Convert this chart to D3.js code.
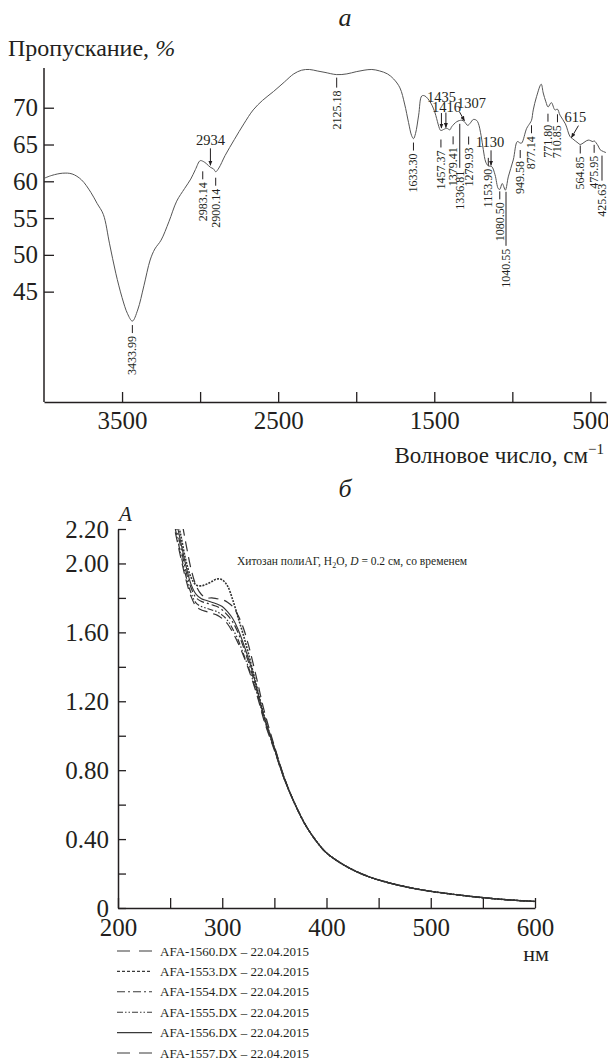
<!DOCTYPE html>
<html lang="ru">
<head>
<meta charset="utf-8">
<title>ИК и УФ спектры хитозана</title>
<script src="https://cdn.jsdelivr.net/npm/d3@7/dist/d3.min.js"></script>
<style>
  body {margin: 0; background: #fff;}
  svg text {font-family: "Liberation Serif", "Times New Roman", serif; fill: #231f20;}
</style>
</head>
<body>
<svg id="chart" width="608" height="1060"></svg>
<script>
// ---- panel a: IR spectrum ----
var irWave = [4000, 3950, 3880, 3820, 3760, 3700, 3660, 3620, 3580, 3540, 3500, 3465, 3434, 3400, 3360, 3320, 3290, 3250, 3200, 3150,
  3100, 3060, 3030, 3000, 2980, 2960, 2934, 2915, 2900, 2880, 2840, 2780, 2720, 2660, 2600, 2530, 2460, 2400, 2350, 2300,
  2250, 2200, 2125, 2060, 2000, 1950, 1900, 1850, 1800, 1760, 1720, 1690, 1665, 1645, 1633, 1620, 1600, 1580, 1560, 1527,
  1500, 1463, 1457, 1435, 1420, 1400, 1389, 1356, 1324, 1307, 1286, 1270, 1250, 1230, 1218, 1200, 1186, 1170, 1154, 1132,
  1111, 1090, 1080, 1065, 1045, 1040, 1026, 994, 968, 950, 940, 908, 887, 877, 866, 845, 815, 802, 785, 771,
  750, 727, 711, 695, 660, 631, 615, 579, 565, 514, 483, 476, 450, 438, 400];
var irTrans = [60.4, 60.8, 61.1, 61.0, 60.2, 58.5, 57.0, 55.5, 51.5, 47.5, 44.2, 42.0, 41.0, 42.5, 45.8, 49.3, 50.8, 52.0, 54.5, 57.3,
  59.0, 60.3, 61.6, 62.8, 62.7, 62.4, 61.9, 61.7, 61.3, 61.8, 63.5, 65.7, 67.8, 69.7, 71.0, 72.2, 73.5, 74.6, 75.1, 75.2,
  75.0, 74.8, 74.5, 74.6, 74.9, 75.1, 75.2, 75.0, 74.6, 73.9, 72.7, 70.5, 68.0, 66.2, 65.8, 66.5, 69.0, 71.6, 71.6, 70.8,
  69.6, 67.0, 66.9, 67.1, 67.2, 67.0, 67.4, 68.1, 68.3, 68.1, 67.6, 67.9, 68.4, 68.3, 67.9, 66.2, 64.3, 62.6, 62.1, 62.0,
  60.9, 59.0, 58.9, 59.7, 58.8, 59.0, 60.6, 62.9, 65.4, 65.2, 65.2, 67.2, 67.9, 68.3, 69.7, 71.5, 73.2, 72.0, 70.8, 70.1,
  70.7, 69.7, 69.8, 69.0, 67.8, 66.1, 65.8, 65.2, 65.0, 65.6, 65.4, 65.5, 64.8, 64.3, 63.9];
var irYTicks = [45, 50, 55, 60, 65, 70];
var irXTicks = [3500, 3000, 2500, 2000, 1500, 1000, 500];
var irXLabels = [3500, 2500, 1500, 500];
var peakWave = [3433.99, 2983.14, 2900.14, 2125.18, 1633.30, 1457.37, 1379.41, 1336.81, 1279.93, 1153.90,
  1080.50, 1040.55, 949.58, 877.14, 771.80, 710.85, 564.85, 475.95, 425.63];
var arrowWave = [2934, 1435, 1416, 1307, 1130, 615];

// ---- panel б: UV absorbance ----
var nm = [255, 260, 265, 270, 275, 280, 285, 290, 295, 300, 305, 310, 315, 320, 325, 330, 335, 340, 350, 360,
  370, 380, 390, 400, 420, 440, 460, 480, 500, 525, 550, 575, 600];
var a1560 = [2.40, 2.28, 2.12, 1.97, 1.87, 1.82, 1.80, 1.80, 1.795, 1.79, 1.775, 1.75, 1.70, 1.63, 1.53, 1.41, 1.28, 1.15, 0.94, 0.75,
  0.60, 0.48, 0.39, 0.32, 0.238, 0.183, 0.146, 0.118, 0.097, 0.077, 0.060, 0.047, 0.038];
var a1553 = [2.30, 2.17, 2.02, 1.92, 1.875, 1.87, 1.88, 1.895, 1.91, 1.905, 1.87, 1.79, 1.69, 1.59, 1.48, 1.36, 1.24, 1.12, 0.93, 0.745,
  0.60, 0.48, 0.39, 0.32, 0.238, 0.183, 0.146, 0.118, 0.097, 0.077, 0.060, 0.047, 0.038];
var a1554 = [2.24, 2.10, 1.96, 1.86, 1.80, 1.78, 1.77, 1.76, 1.75, 1.73, 1.70, 1.66, 1.60, 1.52, 1.43, 1.33, 1.22, 1.11, 0.925, 0.745,
  0.60, 0.48, 0.39, 0.32, 0.238, 0.183, 0.146, 0.118, 0.097, 0.077, 0.060, 0.047, 0.038];
var a1555 = [2.20, 2.06, 1.93, 1.83, 1.77, 1.75, 1.74, 1.73, 1.72, 1.70, 1.67, 1.62, 1.56, 1.48, 1.40, 1.31, 1.21, 1.10, 0.92, 0.74,
  0.60, 0.48, 0.39, 0.32, 0.238, 0.183, 0.146, 0.118, 0.097, 0.077, 0.060, 0.047, 0.038];
var a1556 = [2.27, 2.13, 1.99, 1.88, 1.82, 1.795, 1.785, 1.775, 1.765, 1.75, 1.72, 1.68, 1.62, 1.54, 1.45, 1.35, 1.23, 1.115, 0.93, 0.745,
  0.60, 0.48, 0.39, 0.32, 0.238, 0.183, 0.146, 0.118, 0.097, 0.077, 0.060, 0.047, 0.038];
var a1557 = [2.18, 2.04, 1.91, 1.81, 1.75, 1.73, 1.72, 1.71, 1.70, 1.68, 1.65, 1.60, 1.54, 1.47, 1.39, 1.30, 1.20, 1.09, 0.915, 0.74,
  0.60, 0.48, 0.39, 0.32, 0.238, 0.183, 0.146, 0.118, 0.097, 0.077, 0.060, 0.047, 0.038];
var uvNames = ["AFA-1560.DX", "AFA-1553.DX", "AFA-1554.DX", "AFA-1555.DX", "AFA-1556.DX", "AFA-1557.DX"];
var uvSeries = [a1560, a1553, a1554, a1555, a1556, a1557];
var uvDate = "22.04.2015";
var uvYTicks = [0, 0.2, 0.4, 0.6, 0.8, 1.0, 1.2, 1.4, 1.6, 1.8, 2.0, 2.2];
var uvYLabels = [0, 0.4, 0.8, 1.2, 1.6, 2.0, 2.2];
var uvXTicks = [200, 250, 300, 350, 400, 450, 500, 550, 600];
var uvXLabels = [200, 300, 400, 500, 600];

// layout of the peak annotations: [gap below curve, stem length]
var peakLayout = {
  "3433.99": [4, 8], "2983.14": [10, 8], "2900.14": [6, 8], "2125.18": [3, 10], "1633.30": [4, 8],
  "1457.37": [9, 8], "1379.41": [11, 8], "1336.81": [3, 44], "1279.93": [12, 8], "1153.90": [-8, 8],
  "1080.50": [2, 8], "1040.55": [3, 54], "949.58": [7, 8], "877.14": [5, 8], "771.80": [7, 8],
  "710.85": [5, 8], "564.85": [1, 8], "475.95": [4, 8], "425.63": [5, 25]
};
// arrow labels: [text dx, text dy, arrow start dx, dy, arrow end dx, dy]
var arrowLayout = {
  2934: [0, -22, 0, -19, 0, -2], 1435: [-3, -27, -3, -16, -3, -1], 1416: [-1, -17, -1.5, -16, -1.5, -1],
  1307: [7, -14, -5, -10, 0, -1], 1130: [-2, -20, -1, -17, -1, -2], 615: [3, -17, 6, -13, -1, -1]
};
var dashStyles = ["10,6", "2,1.2", "8,3,2,3", "6,2,1.5,2,1.5,2", null, "10,6"];
var legendDash = ["13,9", "3,2", "8,3,2,3", "6,2,1.5,2,1.5,2", null, "13,9"];
var strokeW = [1.2, 1.6, 1.2, 1.2, 1.1, 1.2];

var svg = d3.select("#chart");
var ink = "#231f20";

svg.append("defs").append("marker")
  .attr("id", "arr").attr("viewBox", "0 0 10 10").attr("refX", 9).attr("refY", 5)
  .attr("markerWidth", 5).attr("markerHeight", 6).attr("orient", "auto-start-reverse")
  .append("path").attr("d", "M0,1L10,5L0,9Z").attr("fill", ink);

// ================= panel a =================
var xTop = d3.scaleLinear().domain([4000, 400]).range([44, 606]);
var yTop = d3.scaleLinear().domain([30, 75.4]).range([402, 68]);

function trAt(w) {
  for (var i = 0; i < irWave.length - 1; i++) {
    if (w <= irWave[i] && w >= irWave[i + 1]) {
      var t = (irWave[i] - w) / (irWave[i] - irWave[i + 1]);
      return irTrans[i] + t * (irTrans[i + 1] - irTrans[i]);
    }
  }
  return irTrans[irTrans.length - 1];
}

svg.append("text").attr("x", 345).attr("y", 26).attr("text-anchor", "middle")
  .style("font-size", "26px").style("font-style", "italic").text("а");
var yl = svg.append("text").attr("x", 8).attr("y", 56).style("font-size", "24px");
yl.append("tspan").text("Пропускание, ");
yl.append("tspan").style("font-style", "italic").text("%");

var gyA = svg.append("g").attr("transform", "translate(44,0)")
  .call(d3.axisLeft(yTop).tickValues(irYTicks).tickSize(-10).tickPadding(6).tickSizeOuter(0));
var gxA = svg.append("g").attr("transform", "translate(0,402)")
  .call(d3.axisBottom(xTop).tickValues(irXTicks).tickSize(-10).tickPadding(9).tickSizeOuter(0)
    .tickFormat(function(d) { return irXLabels.indexOf(d) >= 0 ? d : ""; }));
[gyA, gxA].forEach(function(g) {
  g.selectAll("text").style("font-size", "25px").attr("fill", ink).style("font-family", '"Liberation Serif", serif');
  g.selectAll("line").attr("stroke", ink).attr("stroke-width", 1.3);
  g.select(".domain").attr("stroke", ink).attr("stroke-width", 1.5);
});
gyA.select(".domain").attr("d", "M0," + yTop.range()[1] + "V402");

var xl = svg.append("text").attr("x", 604).attr("y", 463).attr("text-anchor", "end").style("font-size", "23px");
xl.append("tspan").text("Волновое число, см");
xl.append("tspan").attr("dy", -9).style("font-size", "15px").text("−1");

svg.append("path")
  .datum(irWave.map(function(w, i) { return [w, irTrans[i]]; }))
  .attr("fill", "none").attr("stroke", "#555").attr("stroke-width", 1)
  .attr("d", d3.line().x(function(d) { return xTop(d[0]); }).y(function(d) { return yTop(d[1]); })
    .curve(d3.curveCatmullRom.alpha(0.5)));

// peak labels, rotated, with a dash or a long stem above
peakWave.forEach(function(w) {
  var key = w.toFixed(2), lay = peakLayout[key];
  var x = xTop(w), y0 = yTop(trAt(w)) + lay[0], y1 = y0 + lay[1];
  svg.append("line").attr("x1", x).attr("x2", x).attr("y1", y0).attr("y2", y1)
    .attr("stroke", ink).attr("stroke-width", 1);
  svg.append("text").attr("x", x).attr("y", y1 + 3).attr("dy", "0.33em")
    .attr("text-anchor", "end").attr("transform", "rotate(-90," + x + "," + (y1 + 3) + ")")
    .style("font-size", "12px").text(key);
});

// arrow labels
arrowWave.forEach(function(w) {
  var lay = arrowLayout[w], x = xTop(w), yc = yTop(trAt(w));
  svg.append("text").attr("x", x + lay[0]).attr("y", yc + lay[1]).attr("text-anchor", "middle")
    .style("font-size", "14.5px").text(w);
  svg.append("line").attr("x1", x + lay[2]).attr("y1", yc + lay[3]).attr("x2", x + lay[4]).attr("y2", yc + lay[5])
    .attr("stroke", ink).attr("stroke-width", 1).attr("marker-end", "url(#arr)");
});

// ================= panel б =================
var xB = d3.scaleLinear().domain([200, 600]).range([118, 535]);
var yB = d3.scaleLinear().domain([0, 2.2]).range([908, 529]);

svg.append("text").attr("x", 345).attr("y", 497).attr("text-anchor", "middle")
  .style("font-size", "26px").style("font-style", "italic").text("б");
svg.append("text").attr("x", 119).attr("y", 521).style("font-size", "21px").style("font-style", "italic").text("A");

var gyB = svg.append("g").attr("transform", "translate(118,0)")
  .call(d3.axisLeft(yB).tickValues(uvYTicks).tickSize(-8).tickPadding(9).tickSizeOuter(0)
    .tickFormat(function(d) {
      if (!uvYLabels.some(function(v) { return Math.abs(v - d) < 1e-9; })) return "";
      return d === 0 ? "0" : d.toFixed(2);
    }));
var gxB = svg.append("g").attr("transform", "translate(0,908)")
  .call(d3.axisBottom(xB).tickValues(uvXTicks).tickSize(-10).tickPadding(10).tickSizeOuter(0)
    .tickFormat(function(d) { return uvXLabels.indexOf(d) >= 0 ? d : ""; }));
[gyB, gxB].forEach(function(g) {
  g.selectAll("text").style("font-size", "25px").attr("fill", ink).style("font-family", '"Liberation Serif", serif');
  g.selectAll("line").attr("stroke", ink).attr("stroke-width", 1.3);
  g.select(".domain").attr("stroke", ink).attr("stroke-width", 1.5);
});
svg.append("text").attr("x", 536).attr("y", 961).attr("text-anchor", "middle").style("font-size", "22px").text("нм");

var note = svg.append("text").attr("x", 237).attr("y", 565).style("font-size", "11.5px");
note.append("tspan").text("Хитозан полиАГ, H");
note.append("tspan").attr("dy", 3).style("font-size", "8px").text("2");
note.append("tspan").attr("dy", -3).text("O, ");
note.append("tspan").style("font-style", "italic").text("D");
note.append("tspan").text(" = 0.2 см, со временем");

svg.select("defs").append("clipPath").attr("id", "uvclip")
  .append("rect").attr("x", 118).attr("y", 529).attr("width", 430).attr("height", 380);

var uvLine = d3.line().x(function(d, i) { return xB(nm[i]); }).y(function(d) { return yB(d); })
  .curve(d3.curveCatmullRom.alpha(0.5));
var gUv = svg.append("g").attr("clip-path", "url(#uvclip)");
uvSeries.forEach(function(s, k) {
  gUv.append("path").datum(s).attr("fill", "none").attr("stroke", "#333")
    .attr("stroke-width", strokeW[k]).attr("stroke-dasharray", dashStyles[k]).attr("d", uvLine);
});

// legend
uvNames.forEach(function(name, k) {
  var y = 951 + k * 20.4;
  svg.append("line").attr("x1", 117).attr("x2", 152).attr("y1", y).attr("y2", y)
    .attr("stroke", "#3a3a3a").attr("stroke-width", 1.1).attr("stroke-dasharray", legendDash[k]);
  svg.append("text").attr("x", 160).attr("y", y + 4.5).style("font-size", "13px")
    .text(name + " – " + uvDate);
});
</script>
</body>
</html>
